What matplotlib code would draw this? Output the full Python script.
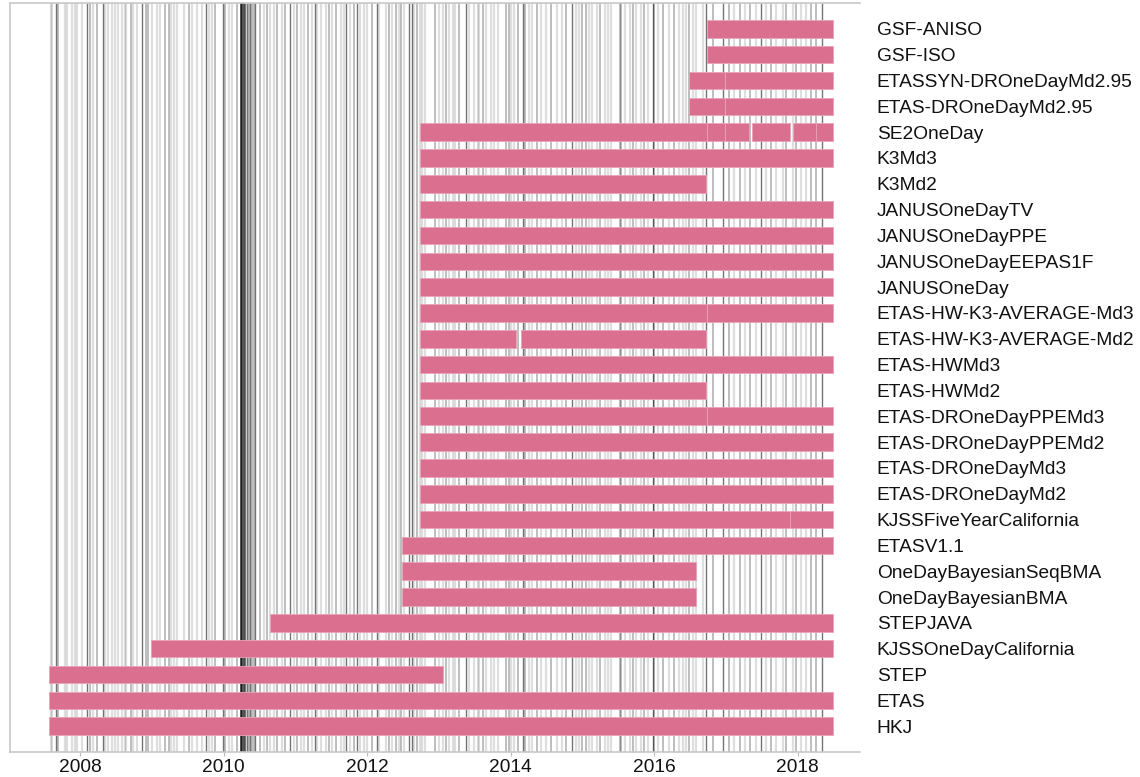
import matplotlib
matplotlib.use("Agg")
import matplotlib.pyplot as plt

plt.rcParams['font.family'] = ['Liberation Sans', 'DejaVu Sans']

# --- forecast models (bottom to top) and their active periods (decimal years) ---
models = [
    "HKJ", "ETAS", "STEP", "KJSSOneDayCalifornia", "STEPJAVA",
    "OneDayBayesianBMA", "OneDayBayesianSeqBMA", "ETASV1.1",
    "KJSSFiveYearCalifornia", "ETAS-DROneDayMd2", "ETAS-DROneDayMd3",
    "ETAS-DROneDayPPEMd2", "ETAS-DROneDayPPEMd3", "ETAS-HWMd2", "ETAS-HWMd3",
    "ETAS-HW-K3-AVERAGE-Md2", "ETAS-HW-K3-AVERAGE-Md3", "JANUSOneDay",
    "JANUSOneDayEEPAS1F", "JANUSOneDayPPE", "JANUSOneDayTV", "K3Md2", "K3Md3",
    "SE2OneDay", "ETAS-DROneDayMd2.95", "ETASSYN-DROneDayMd2.95",
    "GSF-ISO", "GSF-ANISO",
]

periods = [
    [(2007.57, 2018.49)],
    [(2007.57, 2018.49)],
    [(2007.57, 2013.06)],
    [(2008.98, 2018.49)],
    [(2010.65, 2018.49)],
    [(2012.49, 2016.59)],
    [(2012.49, 2016.59)],
    [(2012.49, 2018.49)],
    [(2012.74, 2017.89), (2017.89, 2018.49)],
    [(2012.74, 2018.49)],
    [(2012.74, 2018.49)],
    [(2012.74, 2018.49)],
    [(2012.74, 2016.73), (2016.73, 2018.49)],
    [(2012.74, 2016.72)],
    [(2012.74, 2018.49)],
    [(2012.74, 2014.08), (2014.15, 2016.72)],
    [(2012.74, 2016.73), (2016.73, 2018.49)],
    [(2012.74, 2018.49)],
    [(2012.74, 2018.49)],
    [(2012.74, 2018.49)],
    [(2012.74, 2018.49)],
    [(2012.74, 2016.72)],
    [(2012.74, 2018.49)],
    [(2012.74, 2016.73), (2016.73, 2016.99), (2016.99, 2017.32),
     (2017.36, 2017.89), (2017.93, 2018.26), (2018.26, 2018.49)],
    [(2016.49, 2016.99), (2016.99, 2018.49)],
    [(2016.49, 2016.99), (2016.99, 2018.49)],
    [(2016.73, 2018.49)],
    [(2016.73, 2018.49)],
]

# --- earthquake dates behind the bars, grouped by how dark they show ---
quakes_light = [
    2007.59, 2007.61, 2007.79, 2007.82, 2007.88, 2007.93, 2007.96, 2008.02,
    2008.18, 2008.34, 2008.39, 2008.44, 2008.48, 2008.53, 2008.58, 2008.62,
    2008.63, 2008.74, 2008.79, 2009.00, 2009.07, 2009.11, 2009.27, 2009.31,
    2009.35, 2009.44, 2009.56, 2009.63, 2009.69, 2009.79, 2009.83, 2010.07,
    2010.11, 2010.56, 2010.65, 2010.70, 2010.81, 2010.98, 2011.07, 2011.12,
    2011.23, 2011.30, 2011.35, 2011.42, 2011.51, 2011.63, 2011.67, 2011.76,
    2011.90, 2011.96, 2012.00, 2012.16, 2012.26, 2012.35, 2012.44, 2012.51,
    2012.65, 2012.74, 2012.77, 2012.81, 2013.00, 2013.05, 2013.14, 2013.19,
    2013.23, 2013.42, 2013.49, 2013.54, 2013.56, 2013.65, 2013.72, 2013.77,
    2013.82, 2014.00, 2014.05, 2014.26, 2014.30, 2014.42, 2014.49, 2014.65,
    2014.72, 2014.91, 2014.95, 2015.09, 2015.14, 2015.21, 2015.31, 2015.35,
    2015.40, 2015.59, 2015.66, 2015.75, 2015.82, 2015.91, 2016.05, 2016.21,
    2016.35, 2016.40, 2016.44, 2016.54, 2016.58, 2016.68, 2017.12, 2017.26,
    2017.42, 2017.56, 2017.70, 2017.80, 2017.93, 2018.05, 2018.12,
]
quakes_mid = [
    2007.69, 2008.14, 2008.23, 2008.70, 2008.91, 2008.95, 2009.18, 2009.23,
    2009.51, 2009.88, 2010.02, 2010.18, 2010.35, 2010.40, 2010.42, 2010.51,
    2010.60, 2010.74, 2010.86, 2011.02, 2011.18, 2011.46, 2011.56, 2011.81,
    2012.07, 2012.30, 2012.40, 2012.47, 2012.69, 2012.95, 2013.10, 2013.28,
    2013.61, 2013.93, 2013.97, 2014.10, 2014.20, 2014.37, 2014.56, 2014.77,
    2015.00, 2015.05, 2015.24, 2015.52, 2015.54, 2015.70, 2015.86, 2016.00,
    2016.12, 2016.28, 2016.49, 2016.82, 2017.05, 2017.19, 2017.33, 2017.63,
    2017.84, 2017.98, 2018.19, 2018.26,
]
quakes_dark = [
    2007.66, 2008.10, 2008.31, 2008.86, 2009.75, 2009.99, 2010.30, 2010.33,
    2010.36, 2010.44, 2010.93, 2011.27, 2011.71, 2011.86, 2012.13, 2012.58,
    2012.63, 2013.37, 2014.17, 2014.85, 2015.98, 2016.72, 2016.96, 2017.49,
    2018.34,
]
quakes_major = [2010.24, 2010.26, 2010.28]

fig = plt.figure(figsize=(11.4, 7.77), dpi=100)
ax = fig.add_axes([0.0088, 0.0322, 0.7456, 0.9639])

for years, a, lw in [(quakes_light, 0.13, 1.6), (quakes_mid, 0.3, 1.2),
                     (quakes_dark, 0.55, 1.0), (quakes_major, 0.8, 1.2)]:
    ax.vlines(years, -1, 28, colors='black', alpha=a, linewidth=lw, zorder=1)

bar_h = 0.68
for i, segs in enumerate(periods):
    ax.broken_barh([(s, e - s) for s, e in segs], (i - bar_h / 2, bar_h),
                   facecolor='#db6f90', edgecolor='#e9a3b8', linewidth=0.6,
                   zorder=2)

ax.set_xlim(2007.02, 2018.87)
ax.set_ylim(-1, 28)
ax.set_xticks([2008, 2010, 2012, 2014, 2016, 2018])
ax.set_yticks(range(len(models)))
ax.set_yticklabels(models)
ax.yaxis.tick_right()
ax.tick_params(axis='y', length=0, pad=12, labelsize=13.8, labelcolor='#111111')
ax.tick_params(axis='x', length=3, color='#bbbbbb', labelsize=13.8,
               labelcolor='#111111', pad=2)

for side in ['left', 'top', 'bottom']:
    ax.spines[side].set_color('#c8c8c8')
    ax.spines[side].set_linewidth(1.2)
ax.spines['right'].set_visible(False)

fig.savefig("out.png", dpi=100)
